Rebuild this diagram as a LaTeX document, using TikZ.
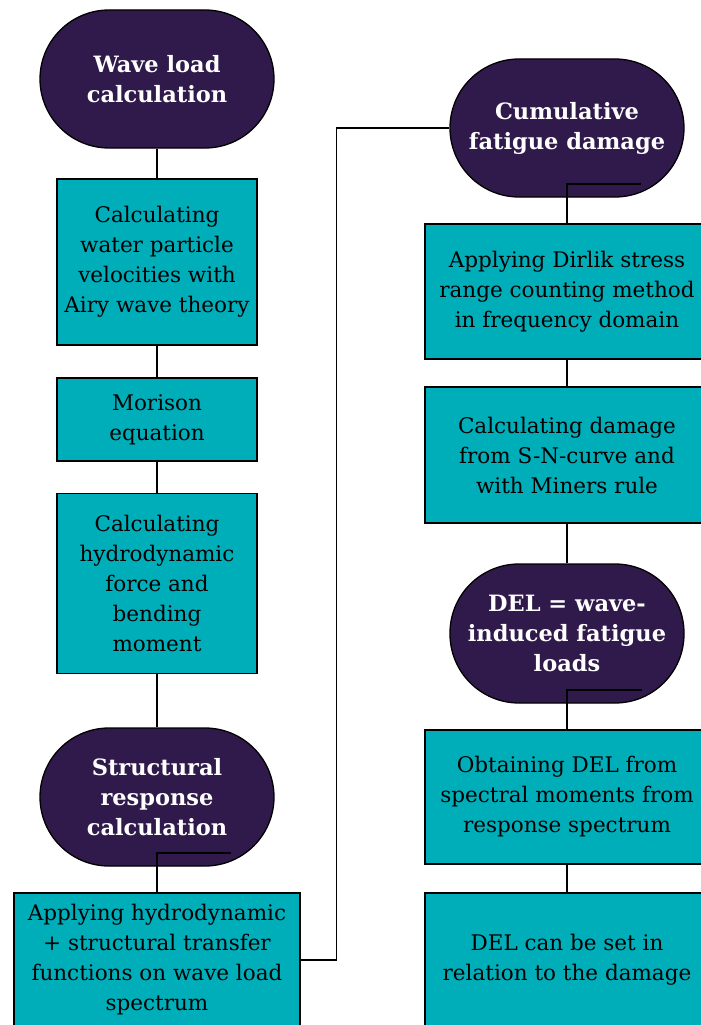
\documentclass[tikz,border=0pt]{standalone}
\usepackage{fontspec}
\setmainfont{DejaVu Serif}
\definecolor{termpurple}{RGB}{48,26,75}
\definecolor{procteal}{RGB}{0,174,186}

\begin{document}
\begin{tikzpicture}[x=1pt,y=-1pt,
                    line width=1.3pt,
                    term/.style={shape=rectangle, rounded corners=69pt,
                                 minimum width=234pt, minimum height=138pt,
                                 draw=black, fill=termpurple, text=white,
                                 inner sep=0, align=center,
                                 font=\fontsize{22.5}{30}\selectfont\bfseries},
                    proc/.style={shape=rectangle, draw=black, fill=procteal,
                                 inner sep=0, align=center,
                                 font=\fontsize{21.5}{30}\selectfont}]

\useasboundingbox (0,0) rectangle (701,1025);
\clip (0,0) rectangle (701,1025);

\node[term] (wave) at (157,79) {Wave load\\calculation};
\node[proc, minimum width=200pt, minimum height=166pt] (calc) at (157,262) {Calculating\\water particle\\velocities with\\Airy wave theory};
\node[proc, minimum width=200pt, minimum height=83pt] (morison) at (157,419.5) {Morison\\equation};
\node[proc, minimum width=200pt, minimum height=180pt] (hydro) at (157,583.5) {Calculating\\hydrodynamic\\force and\\bending\\moment};
\node[term] (struct) at (157,797) {Structural\\response\\calculation};
\node[proc, minimum width=286pt, minimum height=134pt] (appl) at (157,960) {Applying hydrodynamic\\+ structural transfer\\functions on wave load\\spectrum};

\node[term] (cum) at (567,128) {Cumulative\\fatigue damage};
\node[proc, minimum width=284pt, minimum height=135pt] (dirlik) at (567,291.5) {Applying Dirlik stress\\range counting method\\in frequency domain};
\node[proc, minimum width=284pt, minimum height=136pt] (damage) at (567,455) {Calculating damage\\from S-N-curve and\\with Miners rule};
\node[term, minimum height=139pt] (del) at (567,633.5) {DEL = wave-\\induced fatigue\\loads};
\node[proc, minimum width=284pt, minimum height=134pt] (obtain) at (567,797) {Obtaining DEL from\\spectral moments from\\response spectrum};
\node[proc, minimum width=284pt, minimum height=134pt] (delset) at (567,960) {DEL can be set in\\relation to the damage};

\coordinate (structout) at (231,853);
\coordinate (cumout) at (641,184);
\coordinate (delout) at (642,690);

\draw (wave) -- (calc);
\draw (calc) -- (morison);
\draw (morison) -- (hydro);
\draw (hydro) -- (struct);
\draw (structout) -| (appl.north);
\draw (appl.east) -- ++(36,0) |- (cum.west);

\draw (cumout) -| (dirlik.north);
\draw (dirlik) -- (damage);
\draw (damage) -- (del);
\draw (delout) -| (obtain.north);
\draw (obtain) -- (delset);

\end{tikzpicture}
\end{document}
